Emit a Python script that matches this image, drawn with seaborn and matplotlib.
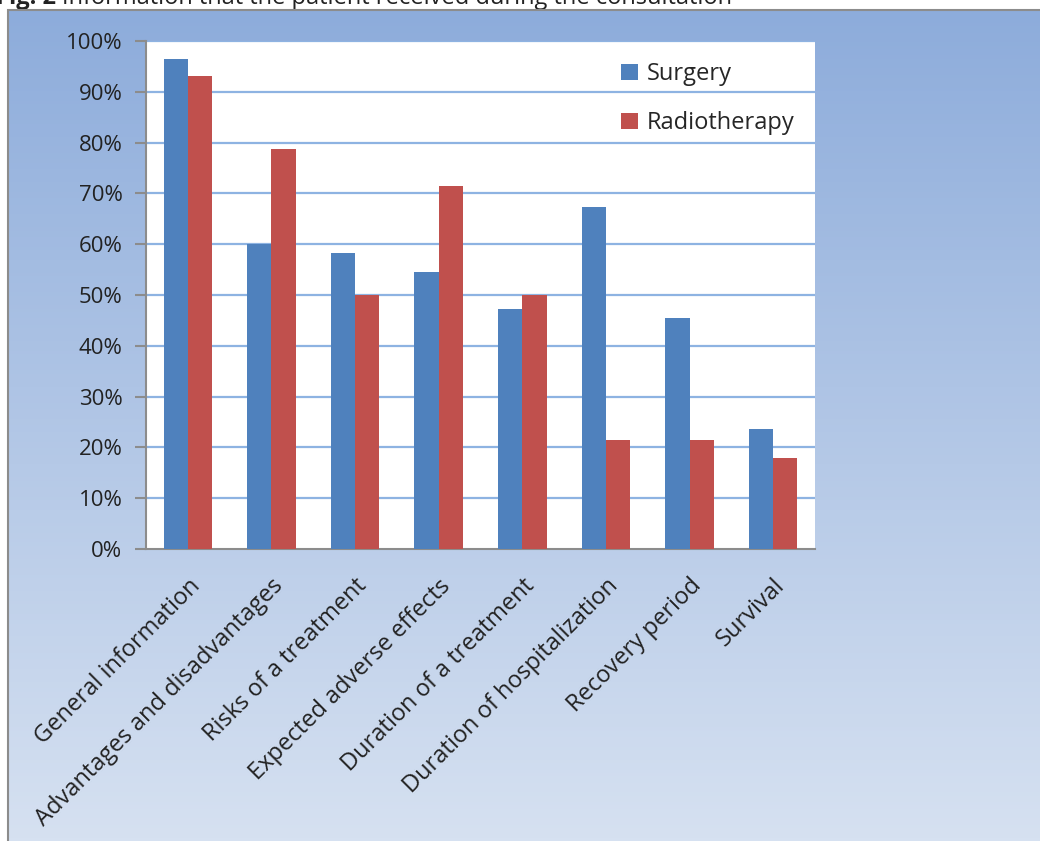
import matplotlib
matplotlib.use("Agg")
import matplotlib.pyplot as plt
from matplotlib.colors import LinearSegmentedColormap
from matplotlib.patches import Rectangle
import numpy as np
import pandas as pd
import seaborn as sns

categories = ['General information', 'Advantages and disadvantages', 'Risks of a treatment',
              'Expected adverse effects', 'Duration of a treatment', 'Duration of hospitalization',
              'Recovery period', 'Survival']
surgery = [96.5, 60.0, 58.3, 54.5, 47.2, 67.3, 45.5, 23.6]
radiotherapy = [93.1, 78.7, 50.0, 71.5, 50.0, 21.5, 21.5, 17.9]
y_ticks = [0, 10, 20, 30, 40, 50, 60, 70, 80, 90, 100]
caption = 'Information that the patient received during the consultation'


def show_chart():
    df = pd.DataFrame({'Category': categories, 'Surgery': surgery, 'Radiotherapy': radiotherapy})
    df = df.melt('Category', var_name='Legenda', value_name='Value')

    sns.set_theme(style='white')
    plt.rcParams['font.family'] = ['Open Sans', 'DejaVu Sans']

    W, H = 1040, 841
    fig = plt.figure(figsize=(W / 100, H / 100), dpi=100)
    fig.patch.set_facecolor('white')

    # gradient background of the chart area
    bg = fig.add_axes([8 / W, 0, 1 - 8 / W, 1 - 10 / H])
    cmap = LinearSegmentedColormap.from_list('bg', ['#8DACDB', '#D6E1F1'])
    bg.imshow(np.linspace(0, 1, 256).reshape(-1, 1), aspect='auto', cmap=cmap, extent=[0, 1, 0, 1])
    bg.set_axis_off()
    fig.patches.append(Rectangle((8 / W, -0.1), 1.2, 1 - 10 / H + 0.1, transform=fig.transFigure,
                                 fill=False, edgecolor='#8C8C8C', linewidth=1.5, zorder=5))

    # caption, cut by the top edge as in the source
    t1 = fig.text(-0.004, 1 - 4 / H, 'Fig. 2 ', fontsize=17, fontweight='bold', color='#222222',
                  va='baseline', ha='left')
    fig.canvas.draw()
    ext = t1.get_window_extent()
    fig.text(ext.x1 / W, 1 - 4 / H, caption, fontsize=17, color='#222222', va='baseline', ha='left')

    ax = fig.add_axes([146 / W, 292 / H, 669 / W, 508 / H])
    ax.set_facecolor('white')
    sns.barplot(data=df, x='Category', y='Value', hue='Legenda', ax=ax,
                palette=['#4F81BD', '#C0504D'], width=0.58, gap=0, saturation=1,
                edgecolor='none', zorder=3)

    ax.set_ylim(0, 100)
    ax.set_xlim(-0.5, len(categories) - 0.5)
    ax.set_yticks(y_ticks)
    ax.set_yticklabels([f'{v}%' for v in y_ticks], fontsize=16, color='#222222')
    for v in y_ticks[1:]:
        ax.axhline(v, color='#8EB3E2', linewidth=1.6, zorder=1)

    ax.set_xticks(range(len(categories)))
    ax.set_xticklabels(categories, rotation=45, ha='right', rotation_mode='anchor',
                       fontsize=17, color='#222222')
    ax.tick_params(axis='x', which='major', length=0, pad=18)
    ax.set_xticks(np.arange(-0.5, len(categories)), minor=True)
    ax.tick_params(axis='x', which='minor', length=8, width=1.5, color='#8C8C8C', direction='out')
    ax.tick_params(axis='y', length=8, width=1.5, color='#8C8C8C', direction='out', pad=9, left=True)

    for s in ['top', 'right']:
        ax.spines[s].set_visible(False)
    for s in ['left', 'bottom']:
        ax.spines[s].set_color('#8C8C8C')
        ax.spines[s].set_linewidth(1.5)

    ax.set_xlabel('')
    ax.set_ylabel('')
    ax.legend(loc='upper left', bbox_to_anchor=((600 - 146) / 669, 1.0), frameon=False, fontsize=17,
              handlelength=0.7, handleheight=0.7, labelspacing=1.05, handletextpad=0.4)

    fig.savefig('out.png', dpi=100)


if __name__ == '__main__':
    show_chart()
